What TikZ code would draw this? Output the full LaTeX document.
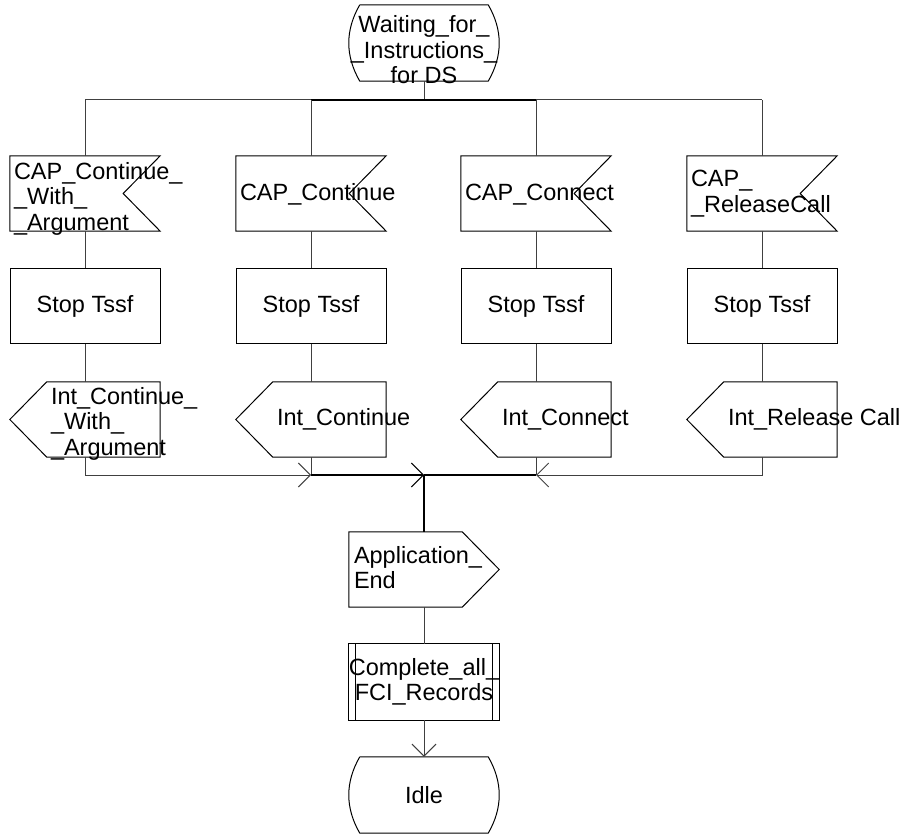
\documentclass[tikz,border=0pt]{standalone}
\usepackage{fontspec}
\setmainfont{Liberation Sans}
\usetikzlibrary{arrows.meta,calc}
\begin{document}
\begin{tikzpicture}[x=1pt,y=-1pt,
  every node/.style={font=\fontsize{23.5}{25.5}\selectfont},
  box/.style={minimum width=150pt, minimum height=75pt, inner sep=0pt, draw=none},
  sbox/.style={minimum width=150pt, minimum height=76pt, inner sep=0pt, draw=none},
  lbl/.style={inner sep=0pt, align=left, anchor=west},
  clbl/.style={inner sep=0pt, align=center},
  ln/.style={line width=1pt, draw=black!75},
  bus/.style={line width=2pt, draw=black},
  shp/.style={line width=1pt, draw=black, line join=miter},
  arr/.style={-{Straight Barb[length=12pt,width=24pt,line width=1pt]}},
  statepath/.style={}
]
\useasboundingbox (0,0) rectangle (900,834);

% ---- start state
\node[sbox] (st) at (424,43) {};
\draw[shp] ($(st.north west)+(11,0)$) -- ($(st.north east)+(-11,0)$)
  .. controls ($(st.north east)+(3.7,25.3)$) and ($(st.south east)+(3.7,-25.3)$) .. ($(st.south east)+(-11,0)$)
  -- ($(st.south west)+(11,0)$)
  .. controls ($(st.south west)+(-3.7,-25.3)$) and ($(st.north west)+(-3.7,25.3)$) .. ($(st.north west)+(11,0)$);
\node[clbl] (stl) at (424,50) {Waiting\_for\_\\\_Instructions\_\\for DS};

% ---- bus
\coordinate (b1) at (85,100);
\coordinate (b2) at (311,100);
\coordinate (bc) at (424,100);
\coordinate (b3) at (536,100);
\coordinate (b4) at (762,100);
\draw[ln] (st.south) -- (bc);
\draw[ln] (b1) -- (b2);
\draw[bus] (b2) -- (b3);
\draw[ln] (b3) -- (b4);

% ---- input signals, tasks, output signals
\foreach \n/\x in {1/85,2/311,3/536,4/762}{
  \node[box] (in\n) at (\x,193.5) {};
  \draw[shp] (in\n.north west) -- (in\n.north east) -- ([xshift=-37pt]in\n.east)
    -- (in\n.south east) -- (in\n.south west) -- cycle;
  \node[box,draw=black,line width=1pt] (s\n) at (\x,306.5) {Stop Tssf};
  \node[box] (o\n) at (\x,419.5) {};
  \draw[shp] (o\n.west) -- ([xshift=37pt]o\n.north west) -- (o\n.north east)
    -- (o\n.south east) -- ([xshift=37pt]o\n.south west) -- cycle;
  \draw[ln] (b\n) -- (in\n.north);
  \draw[ln] (in\n.south) -- (s\n.north);
  \draw[ln] (s\n.south) -- (o\n.north);
}
\node[lbl] at ([xshift=4pt,yshift=-5pt]in1.west) {CAP\_Continue\_\\\_With\_\\\_Argument};
\node[lbl] at ([xshift=4pt,yshift=-1pt]in2.west) {CAP\_Continue};
\node[lbl] at ([xshift=4pt,yshift=-1pt]in3.west) {CAP\_Connect};
\node[lbl] at ([xshift=4pt]in4.west) {CAP\_\\\_ReleaseCall};

\node[lbl] at ([xshift=41pt,yshift=-4pt]o1.west) {Int\_Continue\_\\\_With\_\\\_Argument};
\node[lbl] at ([xshift=41pt]o2.west) {Int\_Continue};
\node[lbl] at ([xshift=41pt]o3.west) {Int\_Connect};
\node[lbl] at ([xshift=41pt]o4.west) {Int\_Release Call};

% ---- merge
\coordinate (m2) at (311,475);
\coordinate (mc) at (424,475);
\coordinate (m3) at (536,475);
\draw[ln,arr] (o1.south) |- (m2);
\draw[ln] (o2.south) -- (m2);
\draw[bus,arr] (m2) -- (mc);
\draw[ln,arr] (o4.south) |- (m3);
\draw[ln] (o3.south) -- (m3);
\draw[bus] (m3) -- (mc);

% ---- application end (output)
\node[box] (ae) at (424,569.5) {};
\draw[shp] (ae.north west) -- ([xshift=-37pt]ae.north east) -- (ae.east)
  -- ([xshift=-37pt]ae.south east) -- (ae.south west) -- cycle;
\node[lbl] at ([xshift=5pt,yshift=2pt]ae.west) {Application\_\\End};
\draw[line width=1.5pt,draw=black] (mc) -- (ae.north);

% ---- procedure call
\node[sbox] (pr) at (424,682) {};
\draw[shp] (pr.north west) rectangle (pr.south east);
\draw[shp] ([xshift=7pt]pr.north west) -- ([xshift=7pt]pr.south west);
\draw[shp] ([xshift=-7pt]pr.north east) -- ([xshift=-7pt]pr.south east);
\node[clbl] at (pr) {Complete\_all\_\\FCI\_Records};
\draw[ln] (ae.south) -- (pr.north);

% ---- idle state
\node[sbox] (id) at (424,795) {};
\draw[shp] ($(id.north west)+(11,0)$) -- ($(id.north east)+(-11,0)$)
  .. controls ($(id.north east)+(3.7,25.3)$) and ($(id.south east)+(3.7,-25.3)$) .. ($(id.south east)+(-11,0)$)
  -- ($(id.south west)+(11,0)$)
  .. controls ($(id.south west)+(-3.7,-25.3)$) and ($(id.north west)+(-3.7,25.3)$) .. ($(id.north west)+(11,0)$);
\node[clbl] at (id) {Idle};
\draw[ln,arr] (pr.south) -- (id.north);
\end{tikzpicture}
\end{document}
